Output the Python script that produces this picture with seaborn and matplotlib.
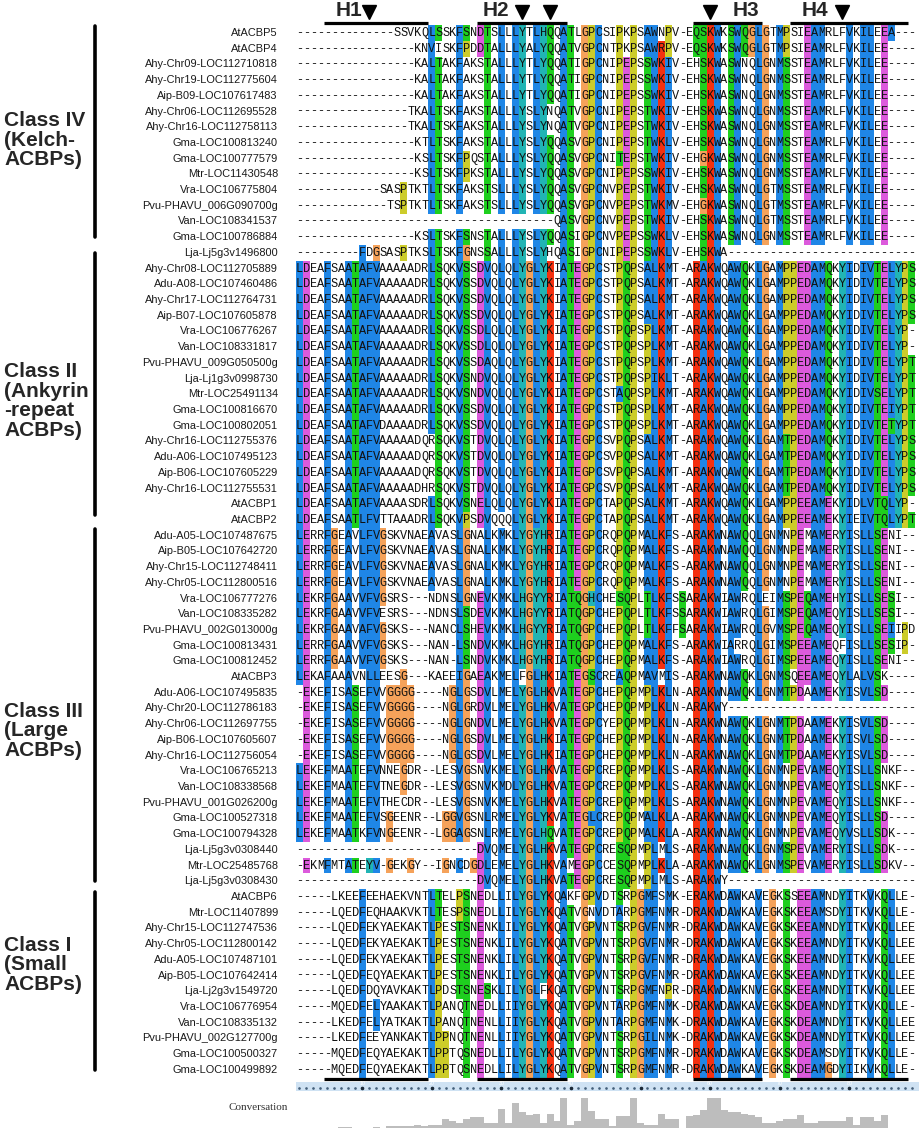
import numpy as np
import matplotlib
matplotlib.use('Agg')
import matplotlib.pyplot as plt
from matplotlib.colors import ListedColormap
from matplotlib.lines import Line2D
import seaborn as sns
from collections import Counter

# sequence names per class (top to bottom)
names_class4 = ['AtACBP5', 'AtACBP4', 'Ahy-Chr09-LOC112710818', 'Ahy-Chr19-LOC112775604',
                'Aip-B09-LOC107617483', 'Ahy-Chr06-LOC112695528', 'Ahy-Chr16-LOC112758113',
                'Gma-LOC100813240', 'Gma-LOC100777579', 'Mtr-LOC11430548', 'Vra-LOC106775804',
                'Pvu-PHAVU_006G090700g', 'Van-LOC108341537', 'Gma-LOC100786884', 'Lja-Lj5g3v1496800']
names_class2 = ['Ahy-Chr08-LOC112705889', 'Adu-A08-LOC107460486', 'Ahy-Chr17-LOC112764731',
                'Aip-B07-LOC107605878', 'Vra-LOC106776267', 'Van-LOC108331817',
                'Pvu-PHAVU_009G050500g', 'Lja-Lj1g3v0998730', 'Mtr-LOC25491134', 'Gma-LOC100816670',
                'Gma-LOC100802051', 'Ahy-Chr16-LOC112755376', 'Adu-A06-LOC107495123',
                'Aip-B06-LOC107605229', 'Ahy-Chr16-LOC112755531', 'AtACBP1', 'AtACBP2']
names_class3 = ['Adu-A05-LOC107487675', 'Aip-B05-LOC107642720', 'Ahy-Chr15-LOC112748411',
                'Ahy-Chr05-LOC112800516', 'Vra-LOC106777276', 'Van-LOC108335282',
                'Pvu-PHAVU_002G013000g', 'Gma-LOC100813431', 'Gma-LOC100812452', 'AtACBP3',
                'Adu-A06-LOC107495835', 'Ahy-Chr20-LOC112786183', 'Ahy-Chr06-LOC112697755',
                'Aip-B06-LOC107605607', 'Ahy-Chr16-LOC112756054', 'Vra-LOC106765213',
                'Van-LOC108338568', 'Pvu-PHAVU_001G026200g', 'Gma-LOC100527318', 'Gma-LOC100794328',
                'Lja-Lj5g3v0308440', 'Mtr-LOC25485768', 'Lja-Lj5g3v0308430']
names_class1 = ['AtACBP6', 'Mtr-LOC11407899', 'Ahy-Chr15-LOC112747536', 'Ahy-Chr05-LOC112800142',
                'Adu-A05-LOC107487101', 'Aip-B05-LOC107642414', 'Lja-Lj2g3v1549720',
                'Vra-LOC106776954', 'Van-LOC108335132', 'Pvu-PHAVU_002G127700g',
                'Gma-LOC100500327', 'Gma-LOC100499892']

# aligned sequences (columns 1-45 + columns 46-89)
seqs_class4 = [
    '-' * 14 + 'SSVKQLSSKFSNDTSLLLYTLHQQATLGPCS' + 'IPKPSAWNPV-EQSKWKSWQGLGTMPSIEAMRLFVKILEEA---',
    '-' * 17 + 'KNVISKFPDDTALLLYALYQQATVGPCN' + 'TPKPSAWRPV-EQSKWKSWQGLGTMPSIEAMRLFVKILEE----',
    '-' * 17 + 'KALTAKFAKSTALLLYTLYQQATIGPCN' + 'IPEPSSWKIV-EHSKWASWNQLGNMSSTEAMRLFVKILEE----',
    '-' * 17 + 'KALTAKFAKSTALLLYTLYQQATIGPCN' + 'IPEPSSWKIV-EHSKWASWNQLGNMSSTEAMRLFVKILEE----',
    '-' * 17 + 'KALTAKFAKSTALLLYTLYQQATIGPCN' + 'IPEPSSWKIV-EHSKWASWNQLGNMSSTEAMRLFVKILEE----',
    '-' * 16 + 'TKALTSKFAKSTALLLYSLYNQATVGPCN' + 'IPEPSTWKIV-EHSKWASWNQLGNMSSTEAMRLFVKILEE----',
    '-' * 16 + 'TKALTSKFAKSTALLLYSLYNQATVGPCN' + 'IPEPSTWKIV-EHSKWASWNQLGNMSSTEAMRLFVKILEE----',
    '-' * 17 + 'KTLTSKFAKSTALLLYSLYQQASVGPCN' + 'IPEPSTWKLV-EHSKWASWNQLGNMSSTEAMRLFVKILEE----',
    '-' * 17 + 'KSLTSKFPQSTALLLYSLYQQASVGPCN' + 'ITEPSTWKIV-EHGKWASWNQLGNMSSTEAMRLFVKILEE----',
    '-' * 17 + 'KSLTSKFPKSTALLLYSLYQQASVGPCN' + 'IPEPSSWKIV-EHSKWASWNQLGNMSSTEAMRLFVKILEE----',
    '-' * 12 + 'SASPTKTLTSKFAKSTSLLLYSLYQQASVGPCN' + 'VPEPSTWKIV-EHSKWASWNQLGTMSSTEAMRLFVKILEE----',
    '-' * 13 + 'TSPTKTLTSKFAKSTSLLLYSLYQQASVGPCN' + 'VPEPSTWKMV-EHGKWASWNQLGTMSSTEAMRLFVKILEE----',
    '-' * 37 + 'QASVGPCN' + 'VPEPSTWKIV-EHSKWASWNQLGTMSSTEAMRLFVKILEE----',
    '-' * 17 + 'KSLTSKFSNSTALLLYSLYQQASIGPCN' + 'VPEPSSWKLV-EHSKWASWNQLGNMSSTEAMRLFVKILEE----',
    '-' * 9 + 'FDGSASPTKSLTSKFGNSSALLLYSLYHQASIGPCN' + 'IPEPSSWKLV-EHSKWA' + '-' * 27,
]
seqs_class2 = [
    'LDEAFSAATAFVAAAAADRLSQKVSSDVQLQLYGLYKIATEGPCS' + 'TPQPSALKMT-ARAKWQAWQKLGAMPPEDAMQKYIDIVTELYPS',
    'LDEAFSAATAFVAAAAADRLSQKVSSDVQLQLYGLYKIATEGPCS' + 'TPQPSALKMT-ARAKWQAWQKLGAMPPEDAMQKYIDIVTELYPS',
    'LDEAFSAATAFVAAAAADRLSQKVSSDVQLQLYGLYKIATEGPCS' + 'TPQPSALKMT-ARAKWQAWQKLGAMPPEDAMQKYIDIVTELYPS',
    'LDEAFSAATAFVAAAAADRLSQKVSSDVQLQLYGLYKIATEGPCS' + 'TPQPSALKMT-ARAKWQAWQKLGAMPPEDAMQKYIDIVTELYPS',
    'LDEAFSAATAFVAAAAADRLSQKVSSDLQLQLYGLYKIATEGPCS' + 'TPQPSPLKMT-ARAKWQAWQKLGAMPPEDAMQKYIDIVTELYP-',
    'LDEAFSAATAFVAAAAADRLSQKVSSDLQLQLYGLYKIATEGPCS' + 'TPQPSPLKMT-ARAKWQAWQKLGAMPPEDAMQKYIDIVTELYP-',
    'LDEAFSAATAFVAAAAADRLSQKVSSDAQLQLYGLYKIATEGPCS' + 'TPQPSPLKMT-ARAKWQAWQKLGAMPPEDAMQKYIDIVTELYPT',
    'LDEAFSAATAFVAAAAADRLSQKVSNDVQLQLYGLYKIATEGPCS' + 'TPQPSPIKLT-ARAKWQAWQKLGAMPPEDAMQKYIDIVTELYPT',
    'LDEAFSAATAFVAAAAADRLSQKVSNDVQLQLYGLYKIATEGPCS' + 'TAQPSPLKMT-ARAKWQAWQKLGAMPPEDAMQKYIDIVSELYPT',
    'LDEAFSAATAFVAAAAADRLSQKVSSDVQLQLYGLYKIATEGPCS' + 'TPQPSPLKMT-ARAKWQAWQKLGAMPPEDAMQKYIDIVTEIYPT',
    'LDEAFSAATAFVDAAAADRLSQKVSSDVQLQLYGLYKIATEGPCS' + 'TPQPSPLKMT-ARAKWQAWQKLGAMPPEDAMQKYIDIVTETYPT',
    'LDEAFSAATAFVAAAAADQRSQKVSTDVQLQLYGLYKIATEGPCS' + 'VPQPSALKMT-ARAKWQAWQKLGAMTPEDAMQKYIDIVTELYPS',
    'LDEAFSAATAFVAAAAADQRSQKVSTDVQLQLYGLYKIATEGPCS' + 'VPQPSALKMT-ARAKWQAWQKLGAMTPEDAMQKYIDIVTELYPS',
    'LDEAFSAATAFVAAAAADQRSQKVSTDVQLQLYGLYKIATEGPCS' + 'VPQPSALKMT-ARAKWQAWQKLGAMTPEDAMQKYIDIVTELYPS',
    'LDEAFSAATAFVAAAAADHRSQKVSTDVQLQLYGLYKIATEGPCS' + 'VPQPSALKMT-ARAKWQAWQKLGAMTPEDAMQKYIDIVTELYPS',
    'LDEAFSAATAFVAAAASDRLSQKVSNELQLQLYGLYKIATEGPCT' + 'APQPSALKMT-ARAKWQAWQKLGAMPPEEAMEKYIDLVTQLYP-',
    'LDEAFSAATLFVTTAAADRLSQKVPSDVQQQLYGLYKIATEGPCT' + 'APQPSALKMT-ARAKWQAWQKLGAMPPEEAMEKYIEIVTQLYPT',
]
seqs_class3 = [
    'LERRFGEAVLFVGSKVNAEAVASLGNALKMKLYGYHRIATEGPCR' + 'QPQPMALKFS-ARAKWNAWQQLGNMNPEMAMERYISLLSENI--',
    'LERRFGEAVLFVGSKVNAEAVASLGNALKMKLYGYHRIATEGPCR' + 'QPQPMALKFS-ARAKWNAWQQLGNMNPEMAMERYISLLSENI--',
    'LERRFGEAVLFVGSKVNAEAVASLGNALKMKLYGYHRIATEGPCR' + 'QPQPMALKFS-ARAKWNAWQQLGNMNPEMAMERYISLLSENI--',
    'LERRFGEAVLFVGSKVNAEAVASLGNALKMKLYGYHRIATEGPCR' + 'QPQPMALKFS-ARAKWNAWQQLGNMNPEMAMERYISLLSENI--',
    'LEKRFGAAVVFVGSRS---NDNSLGNEVKMKLHGYYRIATQGHCH' + 'ESQPLTLKFSSARAKWIAWRQLEIMSPEQAMEHYISLLSESI--',
    'LEKRFGAAVVFVESRS---NDNSLSDEVKMKLHGYYRIATQGPCH' + 'EPQPLTLKFSSARAKWIAWRQLGIMSPEQAMEQYISLLSESI--',
    'LEKRFGAAVAFVGSKS---NANCLSHEVKMKLHGYYRIATQGPCH' + 'EPQPLTLKFFSARAKWIAWRQLGVMSPEQAMEQYISLLSEIIPD',
    'LERRFGAAVVFVGSKS---NAN-LSNDVKMKLHGYHRIATQGPCH' + 'EPQPMALKFS-ARAKWIARRQLGIMSPEEAMEQFISLLSESIP-',
    'LERRFGAAVVFVGSKS---NAN-LSNDVKMKLHGYHRIATQGPCH' + 'EPQPMALKFS-ARAKWIAWRQLGIMSPEEAMEQYISLLSENI--',
    'LEKAFAAAVNLLEESG---KAEEIGAEAKMELFGLHKIATEGSCR' + 'EAQPMAVMIS-ARAKWNAWQKLGNMSQEEAMEQYLALVSK----',
    '-EKEFISASEFVVGGGG----NGLGSDVLMELYGLHKVATEGPCH' + 'EPQPMPLKLN-ARAKWNAWQKLGNMTPDAAMEKYISVLSD----',
    '-EKEFISASEFVVGGGG----NGLGRDVLMELYGLHKVATEGPCH' + 'EPQPMPLKLN-ARAKWY' + '-' * 27,
    '-EKEFISASEFVVGGGG----NGLGNDVLMELYGLHKVATEGPCY' + 'EPQPMPLKLN-ARAKWNAWQKLGNMTPDAAMEKYISVLSD----',
    '-EKEFISASEFVVGGGG----NGLGSDVLMELYGLHKIATEGPCH' + 'EPQPMPLKLN-ARAKWNAWQKLGNMTPDAAMEKYISVLSD----',
    '-EKEFISASEFVVGGGG----NGLGSDVLMELYGLHKIATEGPCH' + 'EPQPMPLKLN-ARAKWNAWQKLGNMTPDAAMEKYISVLSD----',
    'LEKEFMAATEFVNNEGDR--LESVGSNVKMELYGLHKVATEGPCR' + 'EPQPMPLKLS-ARAKWNAWQKLGNMNPEVAMEQYISLLSNKF--',
    'LEKEFMAATEFVTNEGDR--LESVGSNVKMDLYGLHKVATEGPCR' + 'EPQPMPLKLS-ARAKWNAWQKLGNMNPEVAMEQYISLLSNKF--',
    'LEKEFMAATEFVTHECDR--LESVGSNVKMELYGLHKVATEGPCR' + 'EPQPMPLKLS-ARAKWNAWQKLGNMNPEVAMEQYISLLSNKF--',
    'LEKEFMAATEFVSGEENR--LGGVGSNLRMELYGLYKVATEGLCR' + 'EPQPMALKLA-ARAKWNAWQKLGNMNPEVAMEQYISLLSD----',
    'LEKEFMAATKFVNGEENR--LGGAGSNLRMELYGLHQVATEGPCR' + 'EPQPMALKLA-ARAKWNAWQKLGNMNPEVAMEQYVSLLSDK---',
    '-' * 26 + 'DVQMELYGLHKVATEGPCR' + 'ESQPMPLMLS-ARAKWNAWQKLGNMSPEVAMERYISLLSDK---',
    '-EKMFMTATEYV-GEKGY--IGNCDGDLEMELYGLHKVAMEGPCC' + 'ESQPMPLKLA-ARAKWNAWQKLGNMSPEVAMERYISLLSDKV--',
    '-' * 26 + 'DVQMELYGLHKVATEGPCR' + 'ESQPMPLMLS-ARAKWY' + '-' * 27,
]
seqs_class1 = [
    '-----LKEEFEEHAEKVNTLTELPSNEDLLILYGLYKQAKFGPVD' + 'TSRPGMFSMK-ERAKWDAWKAVEGKSSEEAMNDYITKVKQLLE-',
    '-----LQEDFEQHAAKVKTLTESPSNEDLLILYGLYKQATVGNVD' + 'TARPGMFNMR-DRAKWDAWKAVEGKSKEEAMSDYITKVKQLLE-',
    '-----LQEDFEKYAEKAKTLPESTSNENKLILYGLYKQATVGPVN' + 'TSRPGVFNMR-DRAKWDAWKAVEGKSKEEAMNDYITKVKQLLEE',
    '-----LQEDFEKYAEKAKTLPESTSNENKLILYGLYKQATVGPVN' + 'TSRPGVFNMR-DRAKWDAWKAVEGKSKEEAMNDYITKVKQLLEE',
    '-----LQEDFEKYAEKAKTLPESTSNENKLILYGLYKQATVGPVN' + 'TSRPGVFNMR-DRAKWDAWKAVEGKSKEEAMNDYITKVKQLLEE',
    '-----LQEDFEQYAEKAKTLPESTSNENKLILYGLYKQATVGPVN' + 'TSRPGVFNMR-DRAKWDAWKAVEGKSKEEAMNDYITKVKQLLEE',
    '-----LQEDFDQYAVKAKTLPDSTSNESKLILYGLFKQATVGPVN' + 'TSRPGMFNPR-DRAKWDAWKNVEGKSKEEAMNDYITKVKQLLEE',
    '-----MQEDFELYAAKAKTLPANQTNEDLLIIYGLYKQATVGPVN' + 'TARPGMFNMK-DRAKWDAWKAVEGKSKDEAMNDYITKVKQLLE-',
    '-----LKEDFELYATKAKTLPANQTNENLLIIYGLYKQATVGPVN' + 'TARPGMFNMK-DRAKWDAWKAVEGKSKDEAMNDYITKVKQLLEE',
    '-----LKEDFEEYANKAKTLPPNQTNENLLIIYGLYKQATVGPVN' + 'TSRPGILNMK-DRAKWDAWKAVEGKSKDEAMNDYITKVKQLLEE',
    '-----MQEDFEQYAEKAKTLPPTQSNEDLLILYGLYKQATVGPVN' + 'TSRPGMFNMR-DRAKWDAWKAVEGKSKDEAMSDYITKVKQLLE-',
    '-----MQEDFEQYAEKAKTLPPTQSNEDLLILYGLYKQATVGPVN' + 'TSRPGMFNMR-DRAKWDAWKAVEGKSKDEAMGDYIIKVKQLLE-',
]

class_labels = ['Class IV\n(Kelch-\nACBPs)', 'Class II\n(Ankyrin\n-repeat\nACBPs)',
                'Class III\n(Large\nACBPs)', 'Class I\n(Small\nACBPs)']

# helix name, first column, last column, arrow columns
helices = [('H1', 5, 19, [11]), ('H2', 27, 39, [33, 37]),
           ('H3', 58, 67, [60]), ('H4', 72, 88, [79])]

# conservation track (0-11), one value per column
conservation = [0, 0, 0, 0, 0, 0, 0.4, 0.4, 0, 0,
                0, 0.4, 0, 0.8, 0.8, 0.6, 0.8, 1.2, 0.8, 1.2,
                1.2, 3.1, 2.4, 2.0, 3.1, 4.0, 4.0, 2.0, 2.0, 7.0,
                2.0, 9.0, 6.0, 4.7, 5.0, 2.0, 5.0, 2.7, 11, 1.2,
                2.7, 11, 6.3, 3.1, 3.1, 0.8, 4.3, 4.3, 11, 2.0,
                1.2, 1.2, 5.0, 3.1, 3.1, 0, 4.3, 4.7, 6.7, 11,
                11, 6.7, 6.0, 6.0, 5.0, 4.7, 4.0, 2.0, 2.0, 2.7,
                3.1, 3.1, 4.7, 2.0, 2.0, 2.7, 2.7, 2.7, 2.7, 4.0,
                1.2, 4.0, 4.0, 2.7, 4.7, 0, 0, 0, 0]

names = names_class4 + names_class2 + names_class3 + names_class1
seqs = seqs_class4 + seqs_class2 + seqs_class3 + seqs_class1
NCOL = 89
seqs = [s.ljust(NCOL, '-')[:NCOL] for s in seqs]
NROW = len(seqs)


def clustalx_codes(rows):
    """ClustalX style colour classes, computed per column (gaps ignored)"""
    codes = np.zeros((len(rows), NCOL), dtype=int)
    for j in range(NCOL):
        col = [s[j] for s in rows]
        res = [c for c in col if c != '-']
        if not res:
            continue
        cnt = Counter(res)
        n = float(len(res))

        def p(group):
            return 100.0 * sum(cnt[c] for c in group) / n

        hyd = p('WLVIMAFCHP')
        for i, c in enumerate(col):
            code = 0
            if c in 'AILMFWV':
                code = 1 if hyd > 60 else 0
            elif c == 'C':
                code = 5 if p('C') > 85 else (1 if hyd > 60 else 0)
            elif c in 'KR':
                code = 2 if (p('KR') > 60 or p('KRQ') > 85) else 0
            elif c == 'E':
                code = 4 if (p('KR') > 60 or p('QE') > 50 or p('ED') > 50) else 0
            elif c == 'D':
                code = 4 if (p('KR') > 60 or p('KRQ') > 85 or p('ED') > 50) else 0
            elif c == 'N':
                code = 3 if (p('N') > 50 or p('NY') > 85) else 0
            elif c == 'Q':
                code = 3 if (p('KR') > 60 or p('QE') > 50 or p('KRQ') > 85) else 0
            elif c in 'ST':
                code = 3 if (hyd > 60 or p('TS') > 50 or p('ST') > 85) else 0
            elif c == 'G':
                code = 6
            elif c == 'P':
                code = 7
            elif c in 'HY':
                code = 8 if (hyd > 60 or p('WYACPQFHILMV') > 85) else 0
            codes[i, j] = code
    return codes


codes = clustalx_codes(seqs)
letters = np.array([list(s) for s in seqs])
palette = ['#ffffff', '#1f86e6', '#f5300f', '#1ecf1e', '#dc5adc',
           '#f08080', '#f5a25a', '#cccc2a', '#21b4b4']

# figure geometry (pixels)
W, H = 920, 1130
X0, CW = 296, 6.96
Y0, RH = 25.1, 15.71


def box(x0, y0, x1, y1):
    return [x0 / W, 1 - y1 / H, (x1 - x0) / W, (y1 - y0) / H]


sns.set_style('white')
plt.rcParams['font.family'] = ['Liberation Sans', 'DejaVu Sans']

fig = plt.figure(figsize=(W / 100, H / 100), dpi=100)

# alignment
ax = fig.add_axes(box(X0, Y0, X0 + NCOL * CW, Y0 + NROW * RH))
sns.heatmap(codes, ax=ax, cmap=ListedColormap(palette), vmin=-0.5, vmax=8.5, cbar=False,
            annot=letters, fmt='', linewidths=0,
            annot_kws={'fontsize': 8.6, 'family': 'Liberation Mono', 'color': '#111111'},
            xticklabels=False, yticklabels=names)
ax.set_yticklabels(names, rotation=0, fontsize=7.9, color='#1a1a1a')
ax.tick_params(axis='y', length=0, pad=13)
for sp in ax.spines.values():
    sp.set_visible(False)

# helix annotations above and below the alignment
for label, c0, c1, arrows in helices:
    for yb in (-0.15, NROW + 0.07):
        ax.plot([c0 - 1, c1], [yb, yb], color='black', lw=2.3, clip_on=False,
                solid_capstyle='butt')
    ax.plot([a - 0.5 for a in arrows], [-0.83] * len(arrows), 'v', color='black',
            markersize=9.5, clip_on=False)

label_x = {'H1': 7.6, 'H2': 28.7, 'H3': 64.7, 'H4': 74.6}
for label, c0, c1, arrows in helices:
    ax.text(label_x[label], -0.92, label, ha='center', va='center', fontsize=15,
            fontweight='bold', clip_on=False)

# ruler strip
ax_r = fig.add_axes(box(X0, 1082, 920, 1091))
ax_r.set_facecolor('#cfe2f3')
ax_r.set_xlim(0, (920 - X0) / CW)
ax_r.set_ylim(1, 0)
cols = np.arange(1, NCOL + 1)
ax_r.plot(cols - 0.5, [0.62] * NCOL, 'o', color='#45607a', markersize=0.9)
for c in range(10, NCOL + 1, 10):
    ax_r.text(c - 0.5, 0.22, str(c), ha='center', va='center', fontsize=3.8, color='white')
    ax_r.plot([c - 0.5], [0.62], 'o', color='#1c2a38', markersize=1.6)
ax_r.set_xticks([])
ax_r.set_yticks([])
for sp in ax_r.spines.values():
    sp.set_visible(False)

# conservation histogram
ax_c = fig.add_axes(box(X0, 1095, X0 + NCOL * CW, 1128))
sns.barplot(x=cols, y=conservation, color='#bdbdbd', width=1.0, saturation=1,
            errorbar=None, linewidth=0, ax=ax_c)
ax_c.set_xlim(-0.5, NCOL - 0.5)
ax_c.set_ylim(0, 12)
ax_c.axis('off')

# overlay for class labels and brackets
ov = fig.add_axes([0, 0, 1, 1], facecolor='none')
ov.set_xlim(0, W)
ov.set_ylim(H, 0)
ov.axis('off')
ov.text(288, 1107, 'Conversation', ha='right', va='center', fontsize=8,
        family='Liberation Serif', color='#333333')

line_rows = [(0.06, 13.5), (14.5, 31.2), (32.1, 54.5), (55.2, 66.5)]
label_y = [140, 401, 731, 965]
for (r0, r1), txt, ly in zip(line_rows, class_labels, label_y):
    ov.add_line(Line2D([95, 95], [Y0 + r0 * RH, Y0 + r1 * RH], color='black', lw=2.6))
    ov.text(4, ly, txt, ha='left', va='center', fontsize=15, fontweight='bold',
            linespacing=1.05)

fig.savefig('out.png', dpi=100, facecolor='white')
